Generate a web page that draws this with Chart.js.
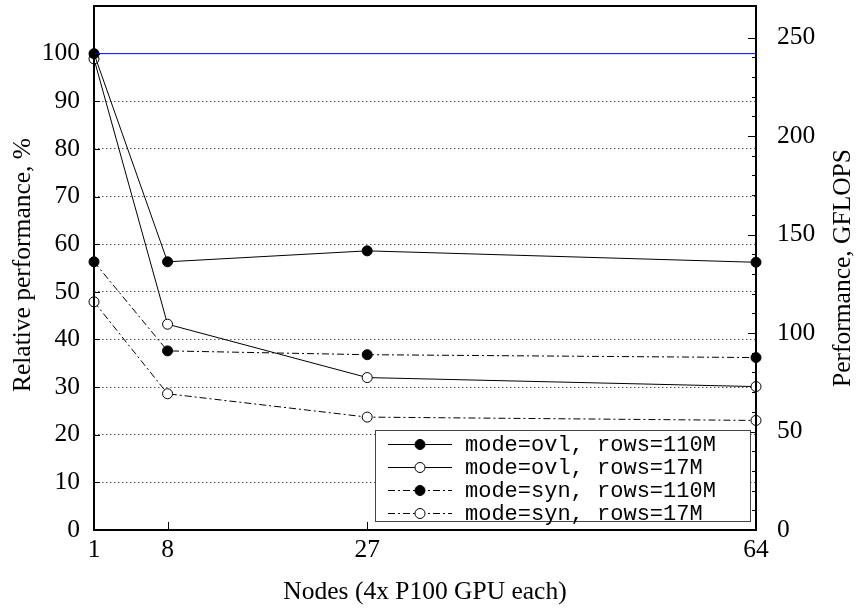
<!DOCTYPE html>
<html>
<head>
<meta charset="utf-8">
<script src="https://cdn.jsdelivr.net/npm/chart.js@4.4.1/dist/chart.umd.min.js"></script>
<style>
html, body { margin: 0; padding: 0; background: #fff; }
</style>
</head>
<body>
<canvas id="perfChart" width="857" height="609"></canvas>
<script>
// values
const nodes = [1, 8, 27, 64];
const ovl110M = [100, 56.3, 58.6, 56.2];
const ovl17M = [98.9, 43.2, 32.0, 30.1];
const syn110M = [56.3, 37.6, 36.8, 36.2];
const syn17M = [47.9, 28.6, 23.7, 23.0];
const peakLevel = [100, 100]; // 100% line, drawn from first to last node
const xTicks = [1, 8, 27, 64];
const leftMax = 110;   // %
const rightMax = 266;  // GFLOPS at top of the frame

const serif = "'Liberation Serif', 'Times New Roman', serif";
const mono = "'Liberation Mono', 'Courier New', monospace";
const dashDot = [7, 3, 2, 3];

function pts(vals) {
    return vals.map((v, i) => ({ x: nodes[i], y: v }));
}

function series(label, vals, filled, dash) {
    return {
        label: label,
        data: pts(vals),
        borderColor: '#000',
        borderWidth: 1,
        borderDash: dash,
        pointRadius: 5,
        pointBorderWidth: 1,
        pointBorderColor: '#000',
        pointBackgroundColor: filled ? '#000' : '#fff',
        showLine: true,
        clip: false,
        yAxisID: 'y'
    };
}

// no extra room for half tick labels above/below the frame
function noPad(s) {
    s.paddingTop = 0;
    s.paddingBottom = 0;
    s.paddingLeft = 0;
    s.paddingRight = 0;
}

// frame, inward ticks, rotated titles and the boxed legend
const decorations = {
    id: 'decorations',
    afterDraw(chart) {
        const ctx = chart.ctx;
        const a = chart.chartArea;
        const sx = chart.scales.x, sy = chart.scales.y, sy2 = chart.scales.y2;
        ctx.save();
        ctx.strokeStyle = '#000';
        ctx.lineWidth = 1;
        ctx.beginPath();
        sy.ticks.forEach(t => {
            const y = Math.round(sy.getPixelForValue(t.value)) + 0.5;
            ctx.moveTo(a.left, y); ctx.lineTo(a.left + 6, y);
        });
        sy2.ticks.forEach(t => {
            if (t.value % 10 !== 0) return;
            const y = Math.round(sy2.getPixelForValue(t.value)) + 0.5;
            const len = t.value % 50 === 0 ? 8 : 4;
            ctx.moveTo(a.right, y); ctx.lineTo(a.right - len, y);
        });
        xTicks.forEach(v => {
            const x = Math.round(sx.getPixelForValue(v)) + 0.5;
            ctx.moveTo(x, a.bottom); ctx.lineTo(x, a.bottom - 8);
        });
        ctx.stroke();

        ctx.lineWidth = 2;
        ctx.strokeRect(a.left, a.top, a.right - a.left, a.bottom - a.top);

        // axis titles (both read bottom to top)
        const midY = (a.top + a.bottom) / 2;
        ctx.fillStyle = '#000';
        ctx.font = '25.5px ' + serif;
        ctx.textAlign = 'center';
        ctx.textBaseline = 'middle';
        ctx.save();
        ctx.translate(a.left - 71, midY - 3);
        ctx.rotate(-Math.PI / 2);
        ctx.fillText('Relative performance, %', 0, 0);
        ctx.restore();
        ctx.save();
        ctx.translate(a.right + 87, midY);
        ctx.rotate(-Math.PI / 2);
        ctx.fillText('Performance, GFLOPS', 0, 0);
        ctx.restore();

        // legend box
        const items = chart.data.datasets.filter(d => d.label);
        const bx = a.left + 281, by = a.bottom - 100, bw = 375, bh = 91;
        ctx.fillStyle = '#fff';
        ctx.fillRect(bx, by, bw, bh);
        ctx.lineWidth = 1;
        ctx.strokeStyle = '#444';
        ctx.strokeRect(bx + 0.5, by + 0.5, bw, bh);
        ctx.font = '22px ' + mono;
        ctx.textAlign = 'left';
        items.forEach((d, i) => {
            const y = by + 14 + i * 23;
            ctx.strokeStyle = '#000';
            ctx.setLineDash(d.borderDash || []);
            ctx.beginPath();
            ctx.moveTo(bx + 13, y + 0.5); ctx.lineTo(bx + 77, y + 0.5);
            ctx.stroke();
            ctx.setLineDash([]);
            ctx.beginPath();
            ctx.arc(bx + 45, y + 0.5, 5, 0, Math.PI * 2);
            ctx.fillStyle = d.pointBackgroundColor;
            ctx.fill();
            ctx.stroke();
            ctx.fillStyle = '#000';
            ctx.fillText(d.label, bx + 90, y + 1);
        });
        ctx.restore();
    }
};

new Chart(document.getElementById('perfChart').getContext('2d'), {
    type: 'scatter',
    data: {
        datasets: [
            {
                label: '',
                data: [{ x: nodes[0], y: peakLevel[0] }, { x: nodes[nodes.length - 1], y: peakLevel[1] }],
                borderColor: '#0000ff',
                borderWidth: 1,
                pointRadius: 0,
                showLine: true,
                clip: false,
                yAxisID: 'y'
            },
            series('mode=ovl, rows=110M', ovl110M, true, []),
            series('mode=ovl, rows=17M', ovl17M, false, []),
            series('mode=syn, rows=110M', syn110M, true, dashDot),
            series('mode=syn, rows=17M', syn17M, false, dashDot)
        ]
    },
    options: {
        responsive: false,
        animation: false,
        devicePixelRatio: 1,
        layout: { padding: { top: 1, left: 0, right: 0, bottom: 0 } },
        scales: {
            x: {
                type: 'linear',
                min: 1,
                max: 64,
                afterBuildTicks: s => { s.ticks = xTicks.map(v => ({ value: v })); },
                afterFit: s => { s.height = 79; noPad(s); },
                ticks: { color: '#000', font: { family: serif, size: 25.5 }, padding: 5, maxRotation: 0 },
                grid: { drawOnChartArea: false, drawTicks: false },
                border: { display: false },
                title: {
                    display: true,
                    text: 'Nodes (4x P100 GPU each)',
                    color: '#000',
                    font: { family: serif, size: 25.5 },
                    padding: { top: 0, bottom: 1 }
                }
            },
            y: {
                position: 'left',
                min: 0,
                max: leftMax,
                afterFit: s => { s.width = 94; noPad(s); },
                ticks: {
                    stepSize: 10,
                    autoSkip: false,
                    color: '#000',
                    font: { family: serif, size: 25.5 },
                    padding: 14,
                    callback: v => (v <= 100 ? v : '')
                },
                grid: {
                    drawTicks: false,
                    lineWidth: 1,
                    color: c => (c.tick.value > 0 && c.tick.value < 100 ? '#555' : 'rgba(0,0,0,0)')
                },
                border: { display: false, dash: [1.5, 2.5] }
            },
            y2: {
                position: 'right',
                min: 0,
                max: rightMax,
                afterFit: s => { s.width = 101; noPad(s); },
                ticks: {
                    stepSize: 10,
                    autoSkip: false,
                    color: '#000',
                    font: { family: serif, size: 25.5 },
                    padding: 21,
                    callback: v => (v % 50 === 0 ? v : '')
                },
                grid: { drawOnChartArea: false, drawTicks: false },
                border: { display: false }
            }
        },
        plugins: {
            legend: { display: false },
            tooltip: { enabled: false }
        }
    },
    plugins: [decorations]
});
</script>
</body>
</html>
